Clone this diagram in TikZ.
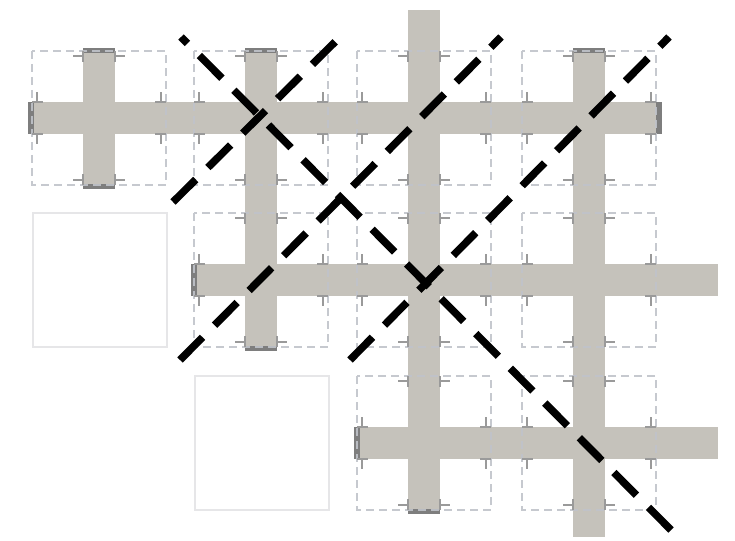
\documentclass[tikz,border=0pt]{standalone}
\definecolor{barc}{HTML}{C5C2BB}
\definecolor{capc}{HTML}{7E7E7E}
\definecolor{tilec}{HTML}{C0C3CA}
\definecolor{markc}{HTML}{9A9A9A}
\definecolor{emptyc}{HTML}{E6E6E8}
\tikzset{
  barfill/.style={fill=barc, draw=none},
  endcap/.style={fill=capc, draw=none},
  tilebox/.style={draw=tilec, line width=2.6pt, dash pattern=on 8pt off 5pt, draw opacity=0.9},
  emptybox/.style={draw=emptyc, line width=1.8pt},
  tick/.style={draw=markc, line width=2.8pt},
  cut/.style={draw=black, line width=7.5pt, dash pattern=on 32pt off 17pt},
  tilemarks/.pic={
    \draw[tick] (51,0)--(51,11) (51,5)--(41,5) (83,0)--(83,11) (83,5)--(93,5);
    \draw[tick] (51,134)--(51,123) (51,129)--(41,129) (83,134)--(83,123) (83,129)--(93,129);
    \draw[tick] (0,51)--(11,51) (5,51)--(5,41) (0,83)--(11,83) (5,83)--(5,93);
    \draw[tick] (134,51)--(123,51) (129,51)--(129,41) (134,83)--(123,83) (129,83)--(129,93);
  }
}
\begin{document}
\begin{tikzpicture}[x=1pt,y=-1pt]
\useasboundingbox (0,0) rectangle (735,540);
% horizontal bars
\fill[barfill] (28,102) rectangle (662,134);
\fill[barfill] (191,264) rectangle (718,296);
\fill[barfill] (354,427) rectangle (718,459);
% vertical bars
\fill[barfill] (83,48) rectangle (115,189);
\fill[barfill] (245,48) rectangle (277,351);
\fill[barfill] (408,10) rectangle (440,514);
\fill[barfill] (573,48) rectangle (605,537);
% end caps
\fill[endcap] (28,102) rectangle (34,134);
\fill[endcap] (656,102) rectangle (662,134);
\fill[endcap] (191,264) rectangle (197,296);
\fill[endcap] (354,427) rectangle (360,459);
\fill[endcap] (83,48) rectangle (115,53);
\fill[endcap] (83,184) rectangle (115,189);
\fill[endcap] (245,48) rectangle (277,53);
\fill[endcap] (245,346) rectangle (277,351);
\fill[endcap] (408,509) rectangle (440,514);
\fill[endcap] (573,48) rectangle (605,53);
% dashed tiles with marks
\foreach \L/\T in {32/51,194/51,357/51,522/51,194/213,357/213,522/213,357/376,522/376}{
  \draw[tilebox] (\L,\T) rectangle ++(134,134);
  \pic at (\L,\T) {tilemarks};
}
% empty tiles
\draw[emptybox] (33,213) rectangle ++(134,134);
\draw[emptybox] (195,376) rectangle ++(134,134);
% cutting lines
\coordinate (a1) at (671,530); \coordinate (a2) at (181,37);
\coordinate (b1) at (173,202); \coordinate (b2) at (337,40);
\coordinate (c1) at (180,360); \coordinate (c2) at (501,37);
\coordinate (d1) at (350,360); \coordinate (d2) at (669,37);
\draw[cut] (a1) -- (a2);
\draw[cut] (b1) -- (b2);
\draw[cut] (c1) -- (c2);
\draw[cut] (d1) -- (d2);
\end{tikzpicture}
\end{document}
